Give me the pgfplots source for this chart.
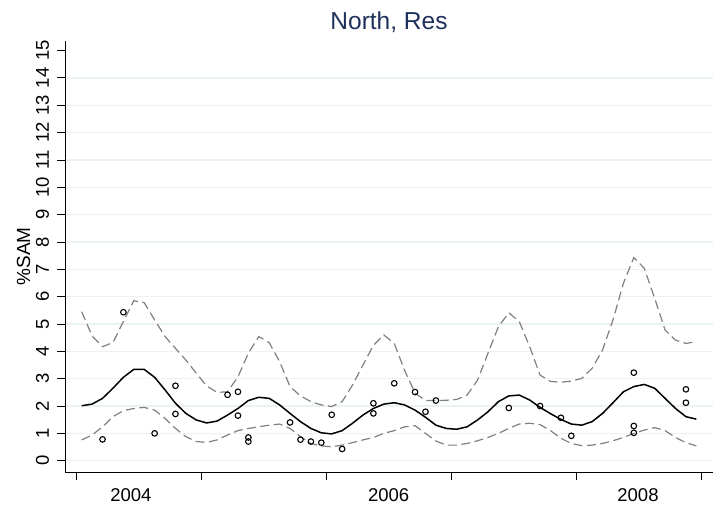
\documentclass[border=0pt]{standalone}
\usepackage{fontspec}
\setmainfont{Liberation Sans}
\usepackage{pgfplots}
\pgfplotsset{compat=1.18}
\usepackage{pgfplotstable}

\definecolor{gridblue}{RGB}{234,242,243}
\definecolor{titlenavy}{RGB}{31,48,92}
\definecolor{bandgray}{RGB}{128,128,128}

% Monthly fitted curve with its upper and lower band (month index m)
\pgfplotstableread{
m  fit   upper  lower
0  2.01  5.45  0.76
1  2.07  4.56  0.94
2  2.28  4.17  1.24
3  2.65  4.32  1.61
4  3.05  5.09  1.83
5  3.34  5.85  1.91
6  3.34  5.78  1.95
7  3.05  5.15  1.85
8  2.59  4.54  1.55
9  2.10  4.11  1.18
10 1.73  3.68  0.88
11 1.49  3.20  0.70
12 1.38  2.73  0.67
13 1.45  2.50  0.76
14 1.67  2.52  0.94
15 1.91  3.07  1.10
16 2.20  3.93  1.18
17 2.32  4.54  1.24
18 2.28  4.32  1.30
19 2.04  3.62  1.34
20 1.73  2.71  1.18
21 1.43  2.37  0.88
22 1.18  2.16  0.63
23 1.02  2.04  0.54
24 0.98  1.98  0.51
25 1.10  2.16  0.57
26 1.37  2.77  0.66
27 1.67  3.50  0.76
28 1.91  4.22  0.85
29 2.07  4.60  1.00
30 2.12  4.29  1.10
31 2.04  3.30  1.24
32 1.85  2.47  1.28
33 1.59  2.20  1.00
34 1.30  2.20  0.72
35 1.18  2.21  0.57
36 1.15  2.24  0.57
37 1.24  2.40  0.63
38 1.49  2.95  0.73
39 1.79  3.93  0.85
40 2.16  4.90  1.00
41 2.37  5.41  1.18
42 2.40  5.09  1.34
43 2.22  4.17  1.37
44 1.95  3.13  1.32
45 1.72  2.90  1.10
46 1.51  2.87  0.82
47 1.34  2.91  0.63
48 1.30  3.01  0.55
49 1.43  3.38  0.57
50 1.73  4.05  0.63
51 2.12  5.15  0.73
52 2.52  6.49  0.85
53 2.71  7.43  1.00
54 2.79  7.04  1.12
55 2.65  5.94  1.21
56 2.28  4.78  1.10
57 1.91  4.41  0.85
58 1.61  4.29  0.66
59 1.52  4.35  0.54
}\fitted

% Observed monthly values
\pgfplotstableread{
m  sam
2  0.78
4  5.43
7  1.00
9  2.74
9  1.71
14 2.41
15 2.52
15 1.65
16 0.85
16 0.70
20 1.40
21 0.77
22 0.70
23 0.66
24 1.68
25 0.43
28 2.10
28 1.73
30 2.83
32 2.51
33 1.79
34 2.20
41 1.93
44 2.00
46 1.57
47 0.91
53 3.22
53 1.27
53 1.02
58 2.61
58 2.12
}\observed

\begin{document}
\begin{tikzpicture}
\useasboundingbox (-65bp,-38.7bp) rectangle (661bp,472.3bp);
\begin{axis}[
  at={(0,0)}, anchor=south west,
  scale only axis,
  width=648bp, height=431.6bp,
  xmin=-1.603, xmax=60.6,
  ymin=-0.424, ymax=15.36,
  axis x line*=bottom, axis y line*=left,
  axis line style={black, line width=0.8bp},
  tick style={black, line width=0.8bp},
  tick align=outside,
  major tick length=7.5bp,
  xtick={-0.48,11.52,23.52,35.52,47.52,59.52},
  xticklabels={},
  extra x ticks={4.72,29.47,53.40},
  extra x tick labels={2004,2006,2008},
  extra x tick style={major tick length=0pt, grid=none},
  ytick={0,1,...,14},
  extra y ticks={15},
  extra y tick style={grid=none},
  ymajorgrids,
  grid style={gridblue, line width=1.3bp},
  /pgf/number format/assume math mode=true,
  ticklabel style={font=\fontsize{18.5bp}{20bp}\selectfont},
  yticklabel style={rotate=90, anchor=south, inner sep=0pt, yshift=8.3bp},
  xticklabel style={anchor=north, inner sep=0pt, yshift=-16bp},
  ylabel={\%SAM},
  ylabel style={at={(axis description cs:-0.054,0.5)}, anchor=base,
    font=\fontsize{19bp}{21bp}\selectfont},
  every axis title shift=0pt,
  title={North, Res},
  title style={at={(axis description cs:0.5,1)}, anchor=base, yshift=11.4bp,
    text=titlenavy, font=\fontsize{24.5bp}{27bp}\selectfont},
]
\addplot[only marks, mark=o, mark size=2.8bp, mark options={black, line width=1.1bp}]
  table[x=m, y=sam] {\observed};
\addplot[bandgray, line width=1.2bp, dash pattern=on 9bp off 4.5bp]
  table[x=m, y=upper] {\fitted};
\addplot[bandgray, line width=1.2bp, dash pattern=on 9bp off 4.5bp]
  table[x=m, y=lower] {\fitted};
\addplot[black, line width=1.5bp]
  table[x=m, y=fit] {\fitted};
\end{axis}
\end{tikzpicture}
\end{document}
